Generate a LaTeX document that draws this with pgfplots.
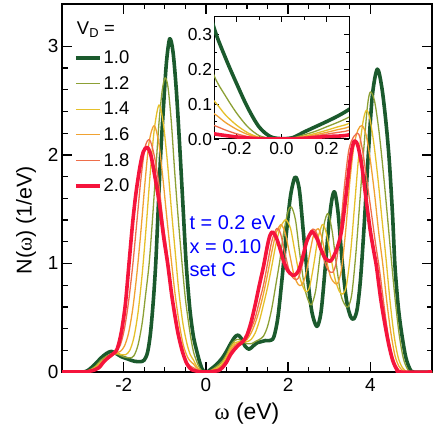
\documentclass[border=0pt]{standalone}
\usepackage{fontspec}
\setmainfont{Liberation Sans}
\newfontfamily\symfont{Liberation Serif}
\usepackage{pgfplots}
\pgfplotsset{compat=1.18}
\usepackage{pgfplotstable}

\definecolor{cA}{HTML}{1B5A2D}
\definecolor{cB}{HTML}{8CA035}
\definecolor{cC}{HTML}{E5C02A}
\definecolor{cD}{HTML}{F0A232}
\definecolor{cE}{HTML}{EE6E4A}
\definecolor{cF}{HTML}{F5143C}

% V_D = 1.0
\pgfplotstableread{
x y
-3.5 0
-3.0 0
-2.85 0.02
-2.7 0.07
-2.55 0.13
-2.42 0.17
-2.3 0.19
-2.18 0.17
-2.05 0.14
-1.9 0.12
-1.75 0.10
-1.6 0.095
-1.5 0.11
-1.42 0.18
-1.35 0.35
-1.28 0.65
-1.22 1.0
-1.16 1.5
-1.1 2.0
-1.03 2.45
-0.96 2.85
-0.88 3.07
-0.8 2.95
-0.72 2.6
-0.64 2.1
-0.56 1.55
-0.48 1.0
-0.4 0.62
-0.35 0.45
-0.3 0.32
-0.25 0.235
-0.2 0.16
-0.15 0.09
-0.1 0.035
-0.05 0.007
0 0.001
0.05 0.004
0.1 0.02
0.15 0.035
0.2 0.05
0.25 0.066
0.3 0.085
0.4 0.13
0.5 0.19
0.6 0.26
0.7 0.32
0.78 0.34
0.86 0.31
0.95 0.24
1.05 0.21
1.15 0.24
1.25 0.27
1.35 0.28
1.45 0.29
1.55 0.29
1.65 0.32
1.75 0.5
1.85 0.85
1.95 1.25
2.05 1.6
2.14 1.77
2.2 1.79
2.28 1.66
2.38 1.25
2.48 0.85
2.58 0.55
2.7 0.42
2.8 0.55
2.9 0.95
3.0 1.4
3.08 1.62
3.14 1.65
3.22 1.45
3.32 1.0
3.42 0.66
3.52 0.51
3.6 0.49
3.68 0.58
3.76 0.85
3.85 1.35
3.95 2.0
4.05 2.55
4.17 2.79
4.28 2.62
4.38 2.3
4.46 1.95
4.54 1.45
4.6 0.97
4.68 0.6
4.76 0.36
4.86 0.14
4.96 0.03
5.05 0
5.5 0
}\dA

% V_D = 1.2
\pgfplotstableread{
x y
-3.5 0
-3.0 0
-2.85 0.015
-2.7 0.05
-2.55 0.11
-2.4 0.15
-2.25 0.17
-2.15 0.165
-2.0 0.14
-1.85 0.13
-1.75 0.15
-1.65 0.25
-1.55 0.45
-1.47 0.7
-1.38 1.0
-1.3 1.4
-1.22 1.85
-1.14 2.3
-1.06 2.6
-0.99 2.71
-0.92 2.62
-0.84 2.3
-0.76 1.85
-0.67 1.4
-0.58 1.0
-0.5 0.68
-0.42 0.45
-0.36 0.3
-0.3 0.183
-0.25 0.125
-0.2 0.075
-0.15 0.035
-0.1 0.01
-0.05 0.002
0 0
0.05 0.003
0.1 0.012
0.15 0.022
0.2 0.035
0.25 0.048
0.3 0.063
0.4 0.1
0.5 0.16
0.6 0.24
0.7 0.29
0.8 0.3
0.9 0.28
1.0 0.26
1.1 0.26
1.2 0.28
1.3 0.3
1.4 0.33
1.5 0.42
1.6 0.58
1.7 0.8
1.8 1.03
1.9 1.3
2.0 1.48
2.08 1.52
2.18 1.4
2.28 1.1
2.4 0.78
2.5 0.65
2.57 0.62
2.67 0.75
2.77 1.05
2.87 1.35
2.97 1.46
3.07 1.3
3.17 1.0
3.28 0.72
3.38 0.62
3.46 0.6
3.55 0.72
3.65 1.1
3.75 1.6
3.85 2.1
3.93 2.45
4.0 2.58
4.1 2.5
4.2 2.25
4.3 1.9
4.4 1.5
4.5 1.08
4.6 0.68
4.7 0.35
4.8 0.13
4.9 0.03
5.0 0
5.5 0
}\dB

% V_D = 1.4
\pgfplotstableread{
x y
-3.5 0
-3.0 0
-2.85 0.012
-2.7 0.04
-2.55 0.09
-2.4 0.14
-2.25 0.165
-2.15 0.17
-2.05 0.16
-1.95 0.16
-1.85 0.2
-1.75 0.32
-1.65 0.55
-1.55 0.9
-1.45 1.35
-1.35 1.85
-1.25 2.25
-1.14 2.46
-1.04 2.3
-0.94 1.95
-0.84 1.5
-0.74 1.08
-0.66 0.75
-0.56 0.45
-0.46 0.26
-0.38 0.16
-0.3 0.11
-0.25 0.07
-0.2 0.04
-0.15 0.018
-0.1 0.005
-0.05 0.001
0 0
0.05 0.002
0.1 0.008
0.15 0.016
0.2 0.025
0.25 0.035
0.3 0.045
0.4 0.08
0.5 0.14
0.6 0.22
0.7 0.27
0.8 0.28
0.9 0.28
1.0 0.28
1.1 0.3
1.2 0.36
1.3 0.47
1.4 0.62
1.5 0.78
1.6 0.97
1.7 1.17
1.8 1.32
1.9 1.39
1.96 1.40
2.06 1.32
2.16 1.12
2.28 0.88
2.38 0.77
2.44 0.74
2.52 0.78
2.62 0.98
2.72 1.22
2.8 1.33
2.85 1.36
2.93 1.28
3.03 1.08
3.14 0.86
3.25 0.74
3.34 0.72
3.42 0.8
3.52 1.1
3.62 1.55
3.72 2.0
3.82 2.3
3.9 2.41
3.98 2.35
4.08 2.12
4.18 1.8
4.28 1.42
4.38 1.05
4.48 0.65
4.58 0.33
4.68 0.13
4.78 0.04
4.88 0.005
4.95 0
5.5 0
}\dC

% V_D = 1.6
\pgfplotstableread{
x y
-3.5 0
-3.0 0
-2.85 0.01
-2.7 0.035
-2.55 0.08
-2.4 0.13
-2.28 0.16
-2.18 0.175
-2.08 0.19
-1.98 0.24
-1.88 0.36
-1.78 0.58
-1.68 0.9
-1.58 1.3
-1.48 1.75
-1.38 2.12
-1.26 2.27
-1.15 2.12
-1.05 1.8
-0.95 1.42
-0.85 1.06
-0.75 0.72
-0.65 0.45
-0.55 0.25
-0.45 0.14
-0.38 0.1
-0.3 0.073
-0.25 0.048
-0.2 0.028
-0.15 0.013
-0.1 0.004
-0.05 0.001
0 0
0.05 0.002
0.1 0.006
0.15 0.012
0.2 0.019
0.25 0.027
0.3 0.035
0.4 0.065
0.5 0.12
0.6 0.2
0.7 0.25
0.8 0.27
0.9 0.28
1.0 0.3
1.1 0.36
1.2 0.45
1.3 0.57
1.4 0.72
1.5 0.9
1.6 1.1
1.7 1.27
1.8 1.35
1.85 1.35
1.93 1.28
2.03 1.1
2.14 0.9
2.24 0.81
2.32 0.8
2.42 0.88
2.52 1.08
2.62 1.26
2.73 1.32
2.82 1.24
2.92 1.05
3.03 0.88
3.13 0.82
3.21 0.82
3.3 0.95
3.4 1.3
3.5 1.75
3.6 2.08
3.7 2.23
3.8 2.27
3.9 2.18
4.0 1.95
4.1 1.65
4.2 1.3
4.3 1.0
4.4 0.65
4.5 0.36
4.6 0.15
4.7 0.05
4.8 0.01
4.88 0
5.5 0
}\dD

% V_D = 1.8
\pgfplotstableread{
x y
-3.5 0
-3.0 0
-2.85 0.01
-2.7 0.03
-2.55 0.07
-2.4 0.12
-2.28 0.16
-2.18 0.19
-2.08 0.25
-1.98 0.4
-1.88 0.65
-1.78 0.98
-1.68 1.38
-1.58 1.78
-1.48 2.07
-1.37 2.14
-1.26 2.0
-1.15 1.75
-1.05 1.4
-0.95 1.12
-0.85 0.8
-0.75 0.52
-0.65 0.3
-0.55 0.15
-0.45 0.08
-0.38 0.055
-0.3 0.039
-0.25 0.026
-0.2 0.015
-0.15 0.007
-0.1 0.003
-0.05 0.001
0 0
0.05 0.002
0.1 0.005
0.15 0.009
0.2 0.014
0.25 0.019
0.3 0.025
0.4 0.05
0.5 0.1
0.6 0.18
0.7 0.23
0.8 0.26
0.9 0.29
1.0 0.32
1.1 0.4
1.2 0.5
1.3 0.65
1.4 0.8
1.5 1.0
1.6 1.2
1.7 1.31
1.75 1.32
1.82 1.27
1.92 1.1
2.03 0.93
2.14 0.86
2.24 0.86
2.34 0.98
2.44 1.17
2.55 1.3
2.65 1.31
2.75 1.22
2.86 1.05
2.97 0.94
3.09 0.92
3.18 1.03
3.28 1.35
3.38 1.75
3.48 2.05
3.6 2.17
3.72 2.19
3.82 2.02
3.92 1.75
4.02 1.48
4.12 1.2
4.22 0.95
4.32 0.65
4.42 0.37
4.52 0.17
4.62 0.06
4.72 0.01
4.8 0
5.5 0
}\dE

% V_D = 2.0
\pgfplotstableread{
x y
-3.5 0
-3.0 0
-2.85 0.005
-2.7 0.02
-2.6 0.04
-2.47 0.1
-2.35 0.14
-2.25 0.17
-2.16 0.21
-2.06 0.36
-1.96 0.62
-1.87 1.0
-1.78 1.38
-1.7 1.65
-1.6 1.9
-1.52 2.03
-1.43 2.07
-1.34 2.0
-1.24 1.8
-1.13 1.55
-1.03 1.25
-0.93 1.0
-0.82 0.68
-0.69 0.38
-0.58 0.2
-0.48 0.09
-0.4 0.04
-0.35 0.022
-0.3 0.015
-0.25 0.01
-0.2 0.006
-0.15 0.003
-0.1 0.001
0 0
0.1 0.002
0.2 0.007
0.3 0.012
0.4 0.04
0.5 0.09
0.6 0.16
0.7 0.21
0.8 0.25
0.9 0.28
1.0 0.34
1.1 0.46
1.2 0.62
1.3 0.8
1.4 0.97
1.5 1.17
1.56 1.26
1.62 1.29
1.7 1.25
1.8 1.14
1.9 1.01
2.0 0.93
2.08 0.9
2.15 0.89
2.25 0.93
2.35 1.05
2.45 1.2
2.55 1.28
2.6 1.29
2.7 1.23
2.8 1.13
2.9 1.05
3.02 1.02
3.1 1.06
3.2 1.15
3.3 1.3
3.4 1.6
3.5 1.93
3.56 2.07
3.62 2.13
3.7 2.08
3.8 1.88
3.9 1.58
4.0 1.3
4.08 1.12
4.15 0.97
4.25 0.68
4.35 0.45
4.45 0.25
4.55 0.1
4.65 0.02
4.72 0
5.5 0
}\dF

\pgfplotsset{
  thickc/.style={line width=3.6bp},
  thinc/.style={line width=1.3bp},
}

\begin{document}
\begin{tikzpicture}
\begin{axis}[
  name=main,
  scale only axis, width=370bp, height=368bp,
  xmin=-3.5, xmax=5.5, ymin=0, ymax=3.39,
  xtick={-2,0,2,4}, xticklabels={-2,0,2,4},
  ytick={0,1,2,3}, yticklabels={0,1,2,3},
  minor x tick num=3, minor y tick num=4,
  major tick length=10bp, minor tick length=5.5bp,
  axis line style={line width=1.5bp},
  tick style={line width=1.3bp, black},
  tick label style={font=\fontsize{19}{21}\selectfont},
  xticklabel style={yshift=-3bp},
  xlabel={{\symfont ω} (eV)},
  ylabel={N({\symfont ω}) (1/eV)},
  xlabel style={font=\fontsize{23}{26}\selectfont,
    at={(axis description cs:0.5,-0.112)}, anchor=center},
  ylabel style={font=\fontsize{21.5}{24}\selectfont,
    at={(axis description cs:-0.097,0.413)}, anchor=center},
  legend style={draw=none, fill=none, at={(axis description cs:0.032,0.878)},
    anchor=north west, inner sep=0pt, row sep=7.2bp,
    font=\fontsize{18.5}{20}\selectfont, nodes={inner sep=2bp}},
  legend cell align=left,
  legend image code/.code={\draw[#1] (0bp,0bp) -- (24bp,0bp);},
  every axis plot/.append style={smooth, line join=round},
]
\addplot[cA, thickc] table {\dA}; \addlegendentry{1.0}
\addplot[cB, thinc] table {\dB}; \addlegendentry{1.2}
\addplot[cC, thinc] table {\dC}; \addlegendentry{1.4}
\addplot[cD, thinc] table {\dD}; \addlegendentry{1.6}
\addplot[cE, thinc] table {\dE}; \addlegendentry{1.8}
\addplot[cF, thickc] table {\dF}; \addlegendentry{2.0}

\node[anchor=base west, inner sep=0pt, font=\fontsize{18.5}{20}\selectfont]
  at (axis description cs:0.04,0.916) {V\textsubscript{D} =};
\node[anchor=base west, inner sep=0pt, text=blue, font=\fontsize{20}{22}\selectfont]
  at (axis cs:-0.40,1.311) {t = 0.2 eV};
\node[anchor=base west, inner sep=0pt, text=blue, font=\fontsize{20}{22}\selectfont]
  at (axis cs:-0.40,1.095) {x = 0.10};
\node[anchor=base west, inner sep=0pt, text=blue, font=\fontsize{20}{22}\selectfont]
  at (axis cs:-0.40,0.879) {set C};
\end{axis}

% inset
\begin{axis}[
  at={(main.north west)}, anchor=north west, xshift=152bp, yshift=-12.7bp,
  scale only axis, width=135bp, height=122.3bp,
  xmin=-0.3, xmax=0.3, ymin=0, ymax=0.352,
  xtick={-0.2,0,0.2}, xticklabels={-0.2,0.0,0.2},
  ytick={0,0.1,0.2,0.3}, yticklabels={0.0,0.1,0.2,0.3},
  minor x tick num=1, minor y tick num=1,
  major tick length=5bp, minor tick length=3bp,
  axis line style={line width=1bp},
  tick style={line width=0.9bp, black},
  tick label style={font=\fontsize{17.5}{19}\selectfont},
  yticklabel style={xshift=1.5bp},
  axis background/.style={fill=white},
  every axis plot/.append style={smooth, line join=round},
]
\addplot[cA, thickc] table {\dA};
\addplot[cB, thinc] table {\dB};
\addplot[cC, thinc] table {\dC};
\addplot[cD, thinc] table {\dD};
\addplot[cE, thinc] table {\dE};
\addplot[cF, thickc] table {\dF};
\end{axis}

\pgfresetboundingbox
\path[use as bounding box] ([xshift=-62bp,yshift=-62bp]main.south west)
  rectangle ([xshift=4bp,yshift=4bp]main.north east);
\end{tikzpicture}
\end{document}
